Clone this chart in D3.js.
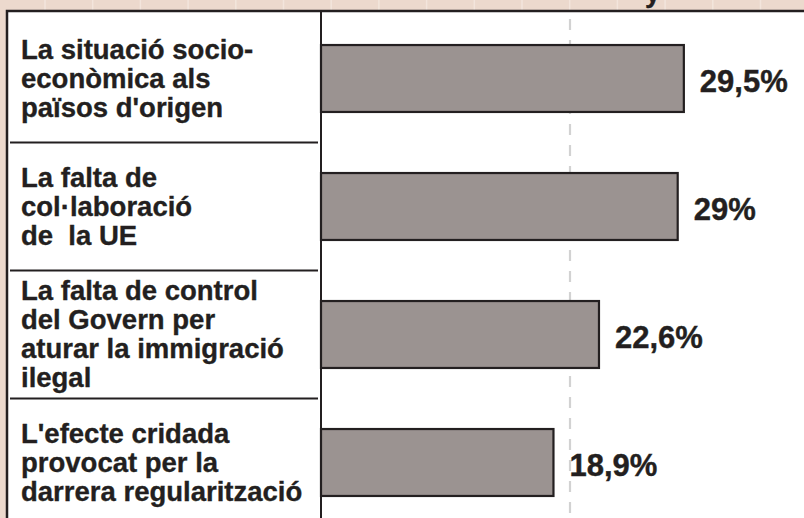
<!DOCTYPE html>
<html lang="ca">
<head>
  <meta charset="UTF-8">
  <title>Causes de la immigració il·legal</title>
  <style>
    body { margin: 0; background: #ecd9cd; }
    svg { display: block; }
    .label { font-family: "Liberation Sans", Arial, sans-serif; font-weight: bold; font-size: 27.5px; fill: #231f20; stroke: #231f20; stroke-width: 0.35px; }
    .value { font-family: "Liberation Sans", Arial, sans-serif; font-weight: bold; font-size: 31px; fill: #231f20; stroke: #231f20; stroke-width: 0.4px; }
  </style>
  <script src="https://d3js.org/d3.v7.min.js"></script>
</head>
<body>
  <div id="chart"></div>
  <script>
    // -----------------------------
    // Data
    // -----------------------------
    const categories = [
      ["La situació socio-", "econòmica als", "països d'origen"],
      ["La falta de", "col·laboració", "de  la UE"],
      ["La falta de control", "del Govern per", "aturar la immigració", "ilegal"],
      ["L'efecte cridada", "provocat per la", "darrera regularització"]
    ];
    const values = [29.5, 29, 22.6, 18.9];
    const valueLabels = ["29,5%", "29%", "22,6%", "18,9%"];
    const refValue = 20;

    // -----------------------------
    // Setup
    // -----------------------------
    const width = 804, height = 518;
    const svg = d3.select("#chart").append("svg")
      .attr("width", width)
      .attr("height", height);

    const ink = "#231f20";
    const frameLeft = 7, frameTop = 11, axisX = 321;

    // background stripes in the top strip
    const stripes = d3.range(45, width, 47.7);
    svg.selectAll("line.stripe")
      .data(stripes)
      .enter().append("line")
      .attr("x1", d => d).attr("x2", d => d)
      .attr("y1", 0).attr("y2", frameTop)
      .attr("stroke", "#f3e5dc")
      .attr("stroke-width", 1.5);

    // text cut off at the top (continues from above the picture)
    svg.append("text")
      .attr("x", 645).attr("y", 2)
      .attr("class", "label")
      .text("y");

    // white panel
    svg.append("rect")
      .attr("x", frameLeft).attr("y", frameTop)
      .attr("width", width).attr("height", height)
      .attr("fill", "#fff")
      .attr("stroke", ink)
      .attr("stroke-width", 2.5);

    // scales
    const x = d3.scaleLinear().domain([0, 30]).range([axisX, axisX + 30 * 12.3]);
    const y = d3.scaleBand()
      .domain(d3.range(categories.length))
      .range([14.5, 526.5])
      .paddingInner(0.477)
      .paddingOuter(0.2385);

    // reference dashed line
    svg.append("line")
      .attr("x1", x(refValue) + 3).attr("x2", x(refValue) + 3)
      .attr("y1", 19).attr("y2", height)
      .attr("stroke", "#d2d2d2")
      .attr("stroke-width", 2.2)
      .attr("stroke-dasharray", "11,10");

    // separators between label rows
    const sepY = i => (y(i - 1) + y.bandwidth() + y(i)) / 2;
    svg.selectAll("line.sep")
      .data(d3.range(1, categories.length))
      .enter().append("line")
      .attr("class", "sep")
      .attr("x1", 10).attr("x2", axisX - 3)
      .attr("y1", sepY)
      .attr("y2", sepY)
      .attr("stroke", ink)
      .attr("stroke-width", 2.2);

    // vertical axis line
    svg.append("line")
      .attr("x1", axisX).attr("x2", axisX)
      .attr("y1", frameTop).attr("y2", height)
      .attr("stroke", ink)
      .attr("stroke-width", 2);

    // bars
    svg.selectAll("rect.bar")
      .data(values)
      .enter().append("rect")
      .attr("class", "bar")
      .attr("x", x(0))
      .attr("y", (d, i) => y(i))
      .attr("width", d => x(d) - x(0))
      .attr("height", y.bandwidth())
      .attr("fill", "#9b9391")
      .attr("stroke", ink)
      .attr("stroke-width", 2.2);

    // value labels
    svg.selectAll("text.value")
      .data(values)
      .enter().append("text")
      .attr("class", "value")
      .attr("x", d => x(d) + 16)
      .attr("y", (d, i) => y(i) + y.bandwidth() / 2 + 13)
      .text((d, i) => valueLabels[i]);

    // category labels
    const lineH = 29;
    categories.forEach((lines, i) => {
      const cy = y(i) + y.bandwidth() / 2;
      const first = cy - (lines.length - 1) / 2 * lineH + 9;
      const t = svg.append("text")
        .attr("class", "label")
        .attr("xml:space", "preserve")
        .style("white-space", "pre");
      lines.forEach((ln, j) => {
        t.append("tspan")
          .attr("x", 21)
          .attr("y", first + j * lineH)
          .text(ln);
      });
    });
  </script>
</body>
</html>
